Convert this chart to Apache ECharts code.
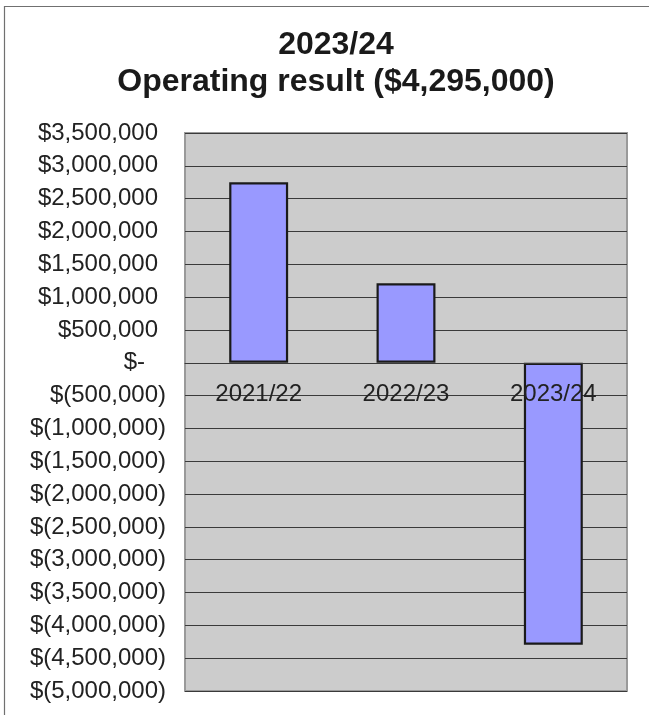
<!DOCTYPE html>
<html>
<head>
<meta charset="utf-8">
<script src="https://cdn.jsdelivr.net/npm/echarts@6/dist/echarts.min.js"></script>
<style>
html,body{margin:0;padding:0;background:#fff;}
#chart{width:649px;height:715px;}
</style>
</head>
<body>
<div id="chart"></div>
<script>
const titleLines = ['2023/24', 'Operating result ($4,295,000)'];
const categories = ['2021/22', '2022/23', '2023/24'];
const operatingResult = [2750000, 1210000, -4295000];
const yMin = -5000000;
const yMax = 3500000;
const yStep = 500000;

function fmtAccounting(v) {
  if (v === 0) return '{z|$-}';
  const s = Math.abs(v).toLocaleString('en-US');
  if (v < 0) return '{n|$(' + s + ')}';
  return '{p|$' + s + '}';
}

const FONT = '"Liberation Sans", Arial, sans-serif';
const W = 649, H = 715;
const GRID = {left: 185, right: 22, top: 133, bottom: 24};
const plotH = H - GRID.top - GRID.bottom;
// move the category axis up from the bottom edge onto the zero line
const zeroOffset = -plotH * (0 - yMin) / (yMax - yMin);

const chart = echarts.init(document.getElementById('chart'), null, {renderer: 'canvas'});
chart.setOption({
  backgroundColor: '#ffffff',
  animation: false,
  title: {
    text: titleLines.join('\n'),
    left: 331,
    top: 22,
    textAlign: 'center',
    textStyle: {
      fontFamily: FONT,
      fontSize: 32,
      fontWeight: 'bold',
      color: '#1a1a1a',
      lineHeight: 37
    }
  },
  graphic: [{
    type: 'rect',
    shape: {x: 4.5, y: 6.5, width: 800, height: 800},
    style: {fill: 'none', stroke: '#707070', lineWidth: 1.2},
    silent: true, z: -1
  }],
  grid: Object.assign({}, GRID, {
    outerBoundsMode: 'none',
    containLabel: false,
    show: true,
    backgroundColor: '#cccccc',
    borderColor: '#9a9a9a',
    borderWidth: 2
  }),
  xAxis: {
    type: 'category',
    data: categories,
    position: 'bottom',
    offset: zeroOffset,
    z: 5,
    axisLine: {show: true, onZero: false, lineStyle: {color: '#3a3a3a', width: 1}},
    axisTick: {show: false},
    axisLabel: {
      margin: 20,
      fontFamily: FONT,
      fontSize: 24,
      color: '#222'
    },
    splitLine: {show: false}
  },
  yAxis: {
    type: 'value',
    min: yMin,
    max: yMax,
    interval: yStep,
    axisLine: {show: false},
    axisTick: {show: false},
    splitLine: {show: true, lineStyle: {color: '#3a3a3a', width: 1}},
    axisLabel: {
      margin: 19,
      fontFamily: FONT,
      fontSize: 24,
      color: '#222',
      formatter: fmtAccounting,
      rich: {
        p: {fontFamily: FONT, fontSize: 24, color: '#222', padding: [0, 8, 0, 0]},
        n: {fontFamily: FONT, fontSize: 24, color: '#222'},
        z: {fontFamily: FONT, fontSize: 24, color: '#222', padding: [0, 21, 0, 0]}
      }
    }
  },
  series: [{
    type: 'bar',
    data: operatingResult,
    barWidth: '40%',
    itemStyle: {
      color: '#9999ff',
      borderColor: '#1a1a1a',
      borderWidth: 2.2
    }
  }]
});
</script>
</body>
</html>
